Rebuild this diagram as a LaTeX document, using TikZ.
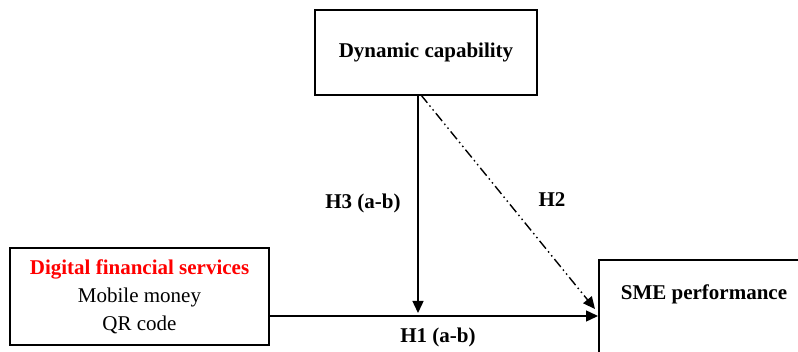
\documentclass[tikz,border=0pt]{standalone}
\usepackage{fontspec}
\setmainfont{Liberation Serif}
\usetikzlibrary{arrows.meta}
\begin{document}
\begin{tikzpicture}[x=1pt,y=1pt,
  box/.style={draw, line width=1.6pt, inner sep=0pt},
  txt/.style={font=\fontsize{21}{28}\selectfont\bfseries, inner sep=0pt},
  conn/.style={line width=1.4pt, -{Triangle[length=12pt,width=11pt]}},
  dashdotdot/.style={dash pattern=on 10pt off 3.5pt on 1.5pt off 3.5pt on 1.5pt off 3.5pt}]
\useasboundingbox (0,0) rectangle (798,-352);
\clip (0,0) rectangle (798,-352);
\node[box, minimum width=222pt, minimum height=85pt, txt] (dyn) at (426,-52.5) {Dynamic capability};
\node[box, minimum width=259pt, minimum height=97pt, align=center,
      font=\fontsize{21}{28}\selectfont] (dfs) at (139.5,-296.5)
      {\textcolor{red}{\bfseries Digital financial services}\\Mobile money\\QR code};
\node[box, minimum width=214pt, minimum height=120pt, anchor=north west] (sme) at (598,-259) {};
\node[txt] (smet) at (704,-294) {SME performance};
\coordinate (vtop) at (418,-95);
\coordinate (vbot) at (418,-313);
\coordinate (dtop) at (421,-95);
\coordinate (dbot) at (595,-309);
\coordinate (hend) at (598,-316);
\draw[conn] (vtop) -- (vbot);
\draw[conn] (dfs.east |- hend) -- (hend);
\draw[conn, dashdotdot] (dtop) -- (dbot);
\node[txt] (h3) at (363,-203) {H3 (a-b)};
\node[txt] (h2) at (552,-200) {H2};
\node[txt] (h1) at (438,-337) {H1 (a-b)};
\end{tikzpicture}
\end{document}
